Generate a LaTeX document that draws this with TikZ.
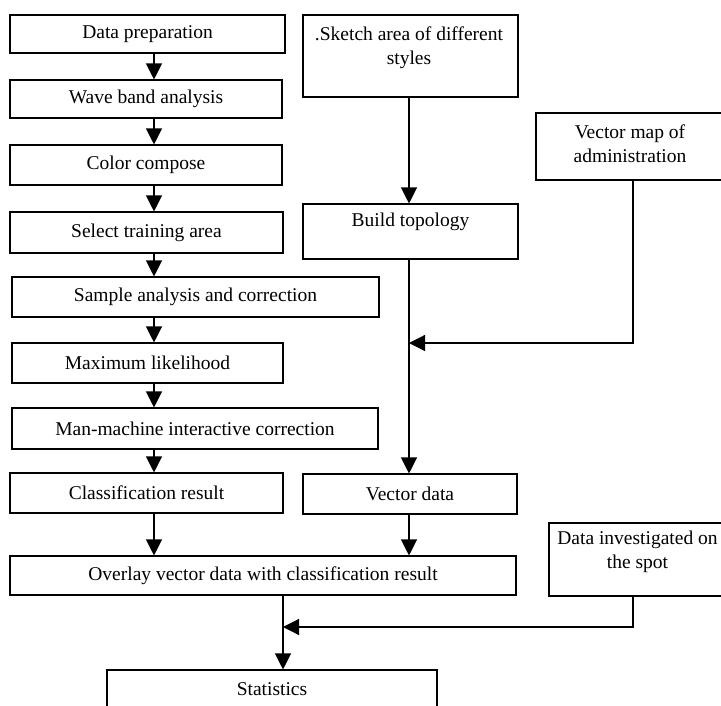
\documentclass[tikz,border=0pt]{standalone}
\usepackage{fontspec}
\setmainfont{Liberation Serif}
\usetikzlibrary{arrows.meta}
\begin{document}
\begin{tikzpicture}[x=1pt,y=-1pt,
  box/.style={draw, line width=1.1pt, inner sep=0pt, align=center,
    font=\fontsize{19.5}{25}\selectfont},
  txt/.style={inner sep=0pt, align=center, font=\fontsize{19.5}{24}\selectfont},
  arr/.style={line width=1.2pt, -{Triangle[length=16pt,width=16pt]}},
  ln/.style={line width=1.2pt}]
\useasboundingbox (0,0) rectangle (721,705);
\clip (0,0) rectangle (721,705);
\fill[white] (0,0) rectangle (721,705);
% left column
\node[box, minimum width=275, minimum height=38] (prep) at (147.5,34) {Data preparation};
\node[box, minimum width=272, minimum height=38] (wave) at (146,99) {Wave band analysis};
\node[box, minimum width=272, minimum height=40] (color) at (146,165) {Color compose};
\node[box, minimum width=273, minimum height=41] (select) at (146.5,232.5) {Select training area};
\node[box, minimum width=367, minimum height=40] (sample) at (195.5,297) {Sample analysis and correction};
\node[box, minimum width=271, minimum height=40] (maxlik) at (147.5,363) {Maximum likelihood};
\node[box, minimum width=366, minimum height=41] (man) at (195,428.5) {Man-machine interactive correction};
\node[box, minimum width=273, minimum height=40] (class) at (146.5,493) {Classification result};
\node[box, minimum width=506, minimum height=39] (overlay) at (263,575.5) {Overlay vector data with classification result};
\node[box, minimum width=330, minimum height=38] (stats) at (272,689) {Statistics};
% right column
\node[box, minimum width=215, minimum height=82] (sketch) at (410.5,56) {};
\node[txt, anchor=north] (sketchtxt) at (409,27) {.Sketch area of different\\styles};
\node[box, minimum width=215, minimum height=55] (topo) at (410.5,231.5) {};
\node[txt] (topotxt) at (410.5,222) {Build topology};
\node[box, minimum width=194, minimum height=67] (vmap) at (633,146.5) {};
\node[txt] (vmaptxt) at (630,144) {Vector map of\\administration};
\node[box, minimum width=214, minimum height=40] (vdata) at (410,494) {Vector data};
\node[box, minimum width=177, minimum height=73] (spot) at (637.5,559.5) {};
\node[txt] (spottxt) at (637.5,552) {Data investigated on\\the spot};
% helper coordinates
\coordinate (ax) at (154,0);
\coordinate (rx) at (409,0);
\coordinate (ox) at (283,0);
\coordinate (vx) at (633,0);
\coordinate (j1) at (409,343);
\coordinate (j2) at (283,627);
% arrows left
\draw[arr] (prep.south -| ax) -- (wave.north -| ax);
\draw[arr] (wave.south -| ax) -- (color.north -| ax);
\draw[arr] (color.south -| ax) -- (select.north -| ax);
\draw[arr] (select.south -| ax) -- (sample.north -| ax);
\draw[arr] (sample.south -| ax) -- (maxlik.north -| ax);
\draw[arr] (maxlik.south -| ax) -- (man.north -| ax);
\draw[arr] (man.south -| ax) -- (class.north -| ax);
\draw[arr] (class.south -| ax) -- (overlay.north -| ax);
% arrows right
\draw[arr] (sketch.south -| rx) -- (topo.north -| rx);
\draw[arr] (topo.south -| rx) -- (vdata.north -| rx);
\draw[arr] (vmap.south -| vx) |- (j1);
\draw[arr] (vdata.south -| rx) -- (overlay.north -| rx);
% bottom
\draw[arr] (overlay.south -| ox) -- (stats.north -| ox);
\draw[arr] (spot.south -| vx) |- (j2);
\end{tikzpicture}
\end{document}
